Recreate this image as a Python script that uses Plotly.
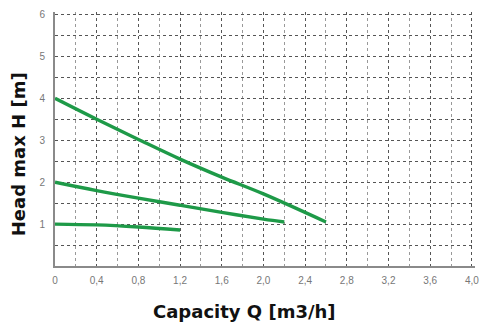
import plotly.graph_objects as go

# Data
curve1_q = [0.0, 0.4, 0.8, 1.2, 1.6, 2.0, 2.6]
curve1_h = [4.0, 3.5, 3.02, 2.55, 2.12, 1.72, 1.05]
curve2_q = [0.0, 0.4, 0.8, 1.2, 1.6, 2.0, 2.2]
curve2_h = [2.0, 1.8, 1.62, 1.45, 1.28, 1.12, 1.05]
curve3_q = [0.0, 0.4, 0.8, 1.2]
curve3_h = [1.0, 0.98, 0.93, 0.86]

x_tickvals = [0, 0.4, 0.8, 1.2, 1.6, 2.0, 2.4, 2.8, 3.2, 3.6, 4.0]
x_ticktext = ["0", "0,4", "0,8", "1,2", "1,6", "2,0", "2,4", "2,8", "3,2", "3,6", "4,0"]
y_tickvals = [1, 2, 3, 4, 5, 6]
y_ticktext = ["1", "2", "3", "4", "5", "6"]

x_title = "Capacity Q [m3/h]"
y_title = "Head max H [m]"

green = "#1e9a48"

fig = go.Figure()
for qs, hs in [(curve1_q, curve1_h), (curve2_q, curve2_h), (curve3_q, curve3_h)]:
    fig.add_trace(go.Scatter(x=qs, y=hs, mode="lines",
                             line=dict(color=green, width=3.4, shape="spline"),
                             showlegend=False, hoverinfo="skip"))

tickfont = dict(family="Liberation Sans, Arial, sans-serif", size=10, color="#777777")

fig.update_xaxes(range=[0, 4.03], tickvals=x_tickvals, ticktext=x_ticktext,
                 showgrid=True, gridcolor="#555555", griddash="dot", gridwidth=1,
                 minor=dict(dtick=0.2, showgrid=True, gridcolor="#999999", griddash="dot", gridwidth=1),
                 showline=True, linecolor="#8a8a8a", linewidth=2,
                 zeroline=False, ticks="", tickfont=tickfont, ticklabelstandoff=4,
                 fixedrange=True)
fig.update_yaxes(range=[0, 6.06], tickvals=y_tickvals, ticktext=y_ticktext,
                 showgrid=True, gridcolor="#555555", griddash="dot", gridwidth=1,
                 minor=dict(dtick=0.5, showgrid=True, gridcolor="#555555", griddash="dot", gridwidth=1),
                 showline=True, linecolor="#8a8a8a", linewidth=2,
                 zeroline=False, ticks="", tickfont=tickfont, ticklabelstandoff=6,
                 fixedrange=True)

titlefont = dict(family="DejaVu Sans, sans-serif", size=18, color="#111111")
fig.add_annotation(text="<b>" + x_title + "</b>", xref="paper", yref="paper",
                   x=0.45, y=-0.18, xanchor="center", yanchor="middle",
                   showarrow=False, font=titlefont)
fig.add_annotation(text="<b>" + y_title + "</b>", xref="paper", yref="paper",
                   x=-0.088, y=0.44, xanchor="center", yanchor="middle",
                   textangle=-90, showarrow=False, font=titlefont)

fig.update_layout(width=487, height=331,
                  margin=dict(l=55, r=8, t=12, b=65),
                  paper_bgcolor="white", plot_bgcolor="white")

fig.write_html("out.html")
